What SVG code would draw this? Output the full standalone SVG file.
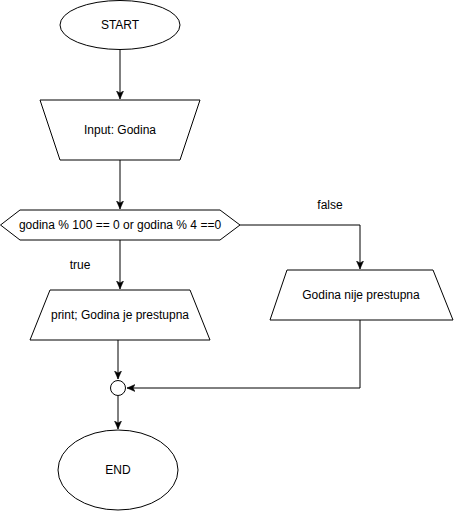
<svg xmlns="http://www.w3.org/2000/svg" width="461" height="511" viewBox="0 0 461 511">
<style>
.s{fill:#fff;stroke:#000;stroke-width:1}
.c{fill:none;stroke:#000;stroke-width:1}
text{font-family:"Liberation Sans",Arial,sans-serif;font-size:12px;fill:#000;text-anchor:middle;dominant-baseline:central}
</style>
<defs>
<marker id="a" markerWidth="10" markerHeight="10" refX="8" refY="4" orient="auto" markerUnits="userSpaceOnUse">
<path d="M0,0.5 L8,4 L0,7.5 L2,4 Z" fill="#000" stroke="#000" stroke-width="0.5"/>
</marker>
</defs>
<g id="edges">
<path class="c" d="M120,50 V99" marker-end="url(#a)"/>
<path class="c" d="M120,160 V209" marker-end="url(#a)"/>
<path class="c" d="M240,225 H360 V269" marker-end="url(#a)"/>
<path class="c" d="M120,240 V289" marker-end="url(#a)"/>
<path class="c" d="M118,340 V379" marker-end="url(#a)"/>
<path class="c" d="M360,320 V388 H127" marker-end="url(#a)"/>
<path class="c" d="M118,396 V429" marker-end="url(#a)"/>
</g>
<g id="start"><ellipse class="s" cx="120" cy="25" rx="60" ry="24.5"/><text x="120" y="25">START</text></g>
<g id="input"><path class="s" d="M40,100 H200 L180,160 H60 Z"/><text x="120" y="130">Input: Godina</text></g>
<g id="decision"><path class="s" d="M0.5,225 L20,210 H220 L240,225 L220,240 H20 Z"/><text x="120" y="225">godina % 100 == 0 or godina % 4 ==0</text></g>
<g id="lbl-false"><text x="330" y="205">false</text></g>
<g id="lbl-true"><text x="80" y="265">true</text></g>
<g id="print-yes"><path class="s" d="M50,290 H190 L210,340 H30 Z"/><text x="120" y="315">print; Godina je prestupna</text></g>
<g id="print-no"><path class="s" d="M287,270 H433 L453,320 H270 Z"/><text x="361" y="295">Godina nije prestupna</text></g>
<g id="merge"><circle class="s" cx="118" cy="388" r="7.5"/></g>
<g id="end"><ellipse class="s" cx="118" cy="470" rx="60" ry="40"/><text x="118" y="470">END</text></g>
</svg>
